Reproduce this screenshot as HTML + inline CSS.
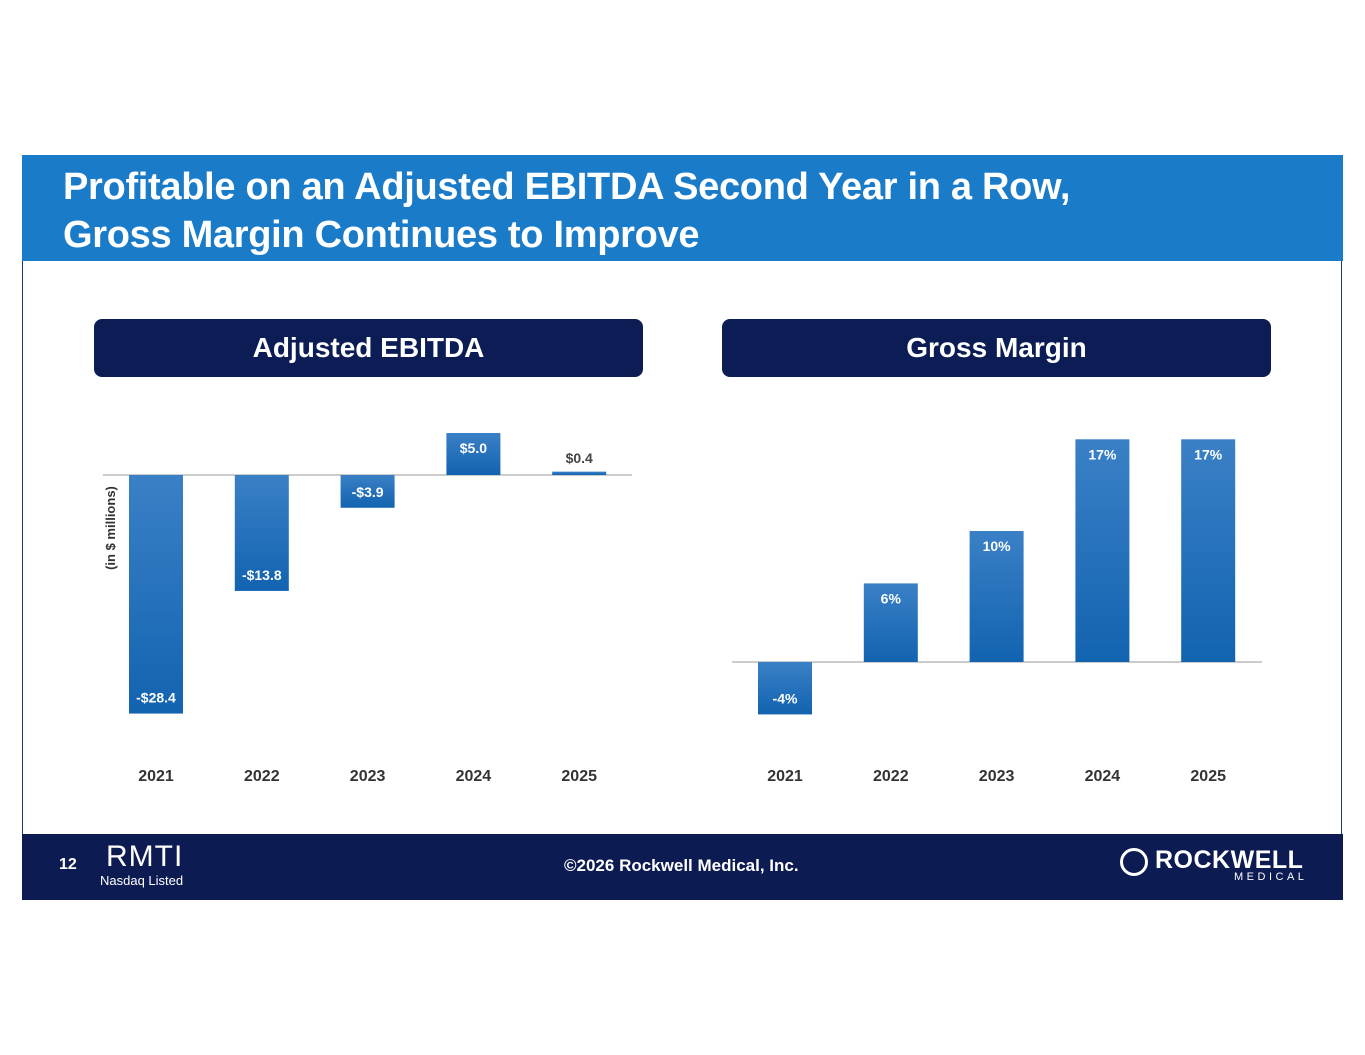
<!DOCTYPE html>
<html><head><meta charset="utf-8">
<style>
body{margin:0;width:1365px;height:1055px;background:#fff;position:relative;overflow:hidden;font-family:"Liberation Sans",sans-serif;}
.slide{position:absolute;left:22px;top:155px;width:1320px;height:744px;border:1px solid #1b3a7a;box-sizing:border-box;background:#fff;}
.hdr{position:absolute;left:22px;top:155px;width:1321px;height:106px;background:#1a7cc8;}
.hdr div{position:absolute;left:41px;top:8px;color:#fff;font-weight:bold;font-size:38px;line-height:48px;letter-spacing:-0.3px;}
.pill{position:absolute;top:319px;height:58px;width:549px;background:#0c1d55;border-radius:8px;color:#fff;font-weight:bold;font-size:28px;text-align:center;line-height:58px;}
.ftr{position:absolute;left:22px;top:834px;width:1321px;height:66px;background:#0c1b52;color:#fff;}
svg{position:absolute;left:0;top:0;}
</style></head><body>
<div class="slide"></div>
<div class="hdr"><div>Profitable on an Adjusted EBITDA Second Year in a Row,<br>Gross Margin Continues to Improve</div></div>
<div class="pill" style="left:94px">Adjusted EBITDA</div>
<div class="pill" style="left:722px">Gross Margin</div>
<svg width="1365" height="1055" id="chart">
<defs><linearGradient id="g" x1="0" y1="0" x2="0" y2="1"><stop offset="0" stop-color="#3a80c6"/><stop offset="1" stop-color="#1263b0"/></linearGradient></defs>
<text x="115" y="528" transform="rotate(-90 115 528)" text-anchor="middle" font-size="13" font-weight="bold" fill="#333">(in $ millions)</text>
</svg>
<div class="ftr">
<span style="position:absolute;left:37px;top:22px;font-weight:bold;font-size:16px">12</span>
<span style="position:absolute;left:84px;top:6px;font-size:30px;letter-spacing:1px">RMTI</span>
<span style="position:absolute;left:78px;top:39px;font-size:13px">Nasdaq Listed</span>
<span style="position:absolute;left:542px;top:22px;font-weight:bold;font-size:17px">©2026 Rockwell Medical, Inc.</span>
<span style="position:absolute;left:1098px;top:14px;width:28px;height:28px;border:3px solid #fff;border-radius:50%;box-sizing:border-box"></span>
<span style="position:absolute;left:1133px;top:12px;font-weight:bold;font-size:25px;letter-spacing:0.5px">ROCKWELL</span>
<span style="position:absolute;left:1212px;top:37px;font-size:11px;letter-spacing:3.5px">MEDICAL</span>
</div>
<script>
const years=["2021","2022","2023","2024","2025"];
const ebitda=[-28.4,-13.8,-3.9,5.0,0.4];
const ebitdaLabels=["-$28.4","-$13.8","-$3.9","$5.0","$0.4"];
const margin=[-4,6,10,17,17];
const marginLabels=["-4%","6%","10%","17%","17%"];
const svg=document.getElementById('chart');
const NS="http://www.w3.org/2000/svg";
function mk(t,a){const e=document.createElementNS(NS,t);for(const k in a)e.setAttribute(k,a[k]);svg.appendChild(e);return e;}
function draw(vals,labels,x0,base,scale,lx1,lx2,prefix){
  const ax=mk('line',{x1:lx1,x2:lx2,y1:base,y2:base,stroke:'#999','stroke-width':1});
  
  
  vals.forEach((v,i)=>{
    const cx=x0+i*105.8, h=Math.abs(v)*scale, y=v>=0?base-h:base;
    const r=mk('rect',{x:cx-27,y:y,width:54,height:Math.max(h,2),fill:'url(#g)'});
    
    
    let ty, col='#fff';
    if(h<20){ty=base-12;col='#444';}
    else ty=v>=0?y+20:y+h-11;
    const t=mk('text',{x:cx,y:ty,'text-anchor':'middle','font-size':14,'font-weight':'bold',fill:col});
    t.textContent=labels[i];
    
    
    const yl=mk('text',{x:cx,y:781,'text-anchor':'middle','font-size':16,'font-weight':'bold',fill:'#333'});
    yl.textContent=years[i];
    
    
  });
}
draw(ebitda,ebitdaLabels,156,475,8.4,103,632,'ebitda');
draw(margin,marginLabels,785,662,13.1,732,1262,'margin');
</script>
</body></html>
